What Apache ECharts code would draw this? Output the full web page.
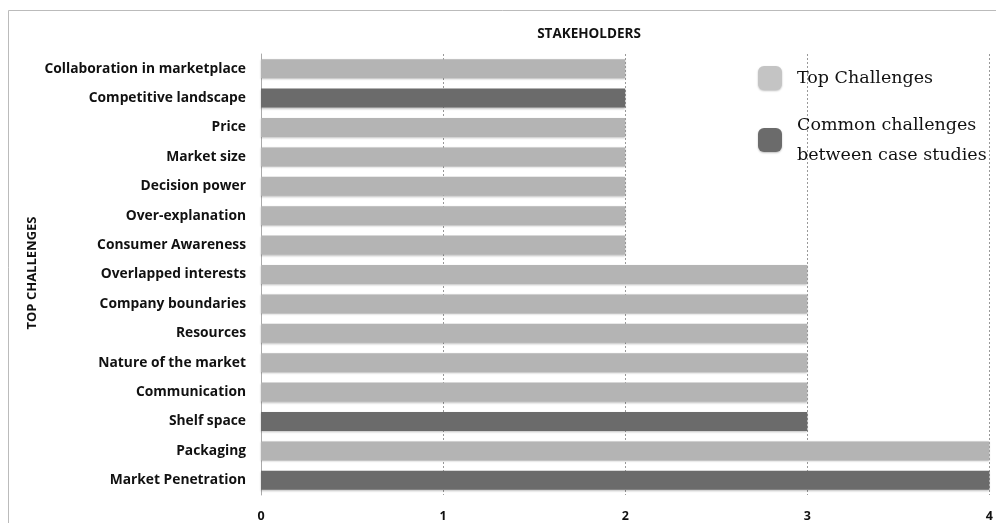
<!DOCTYPE html>
<html><head><meta charset="utf-8">
<script src="https://cdn.jsdelivr.net/npm/echarts@6/dist/echarts.min.js"></script>
<style>html,body{margin:0;padding:0;background:#fff}#c{width:996px;height:523px}</style>
</head><body><div id="c"></div>
<script>
const categories = ["Collaboration in marketplace","Competitive landscape","Price","Market size","Decision power","Over-explanation","Consumer Awareness","Overlapped interests","Company boundaries","Resources","Nature of the market","Communication","Shelf space","Packaging","Market Penetration"];
const topChallenges = [2,'-',2,2,2,2,2,3,3,3,3,3,'-',4,'-'];
const commonChallenges = ['-',2,'-','-','-','-','-','-','-','-','-','-',3,'-',4];
const xTicks = [0,1,2,3,4];
const seriesNames = ["Top Challenges","Common challenges\nbetween case studies"];

const chart = echarts.init(document.getElementById('c'));
const barStyle = (c) => ({color:c, shadowColor:'rgba(0,0,0,0.25)', shadowBlur:2, shadowOffsetY:1});
chart.setOption({
  animation:false,
  grid:{left:261, right:4, top:54, bottom:28, containLabel:false},
  title:{text:'STAKEHOLDERS', left:584, top:22, textAlign:'center',
    textStyle:{fontFamily:'Open Sans', fontWeight:'bold', fontSize:13.5, color:'#111'}},
  legend:{orient:'vertical', left:753, top:58, itemWidth:24, itemHeight:24, itemGap:17,
    icon:'roundRect',
    data:[{name:seriesNames[0], itemStyle:barStyle('#c4c4c4')},{name:seriesNames[1], itemStyle:barStyle('#6b6b6b')}],
    textStyle:{fontFamily:'DejaVu Serif', fontSize:17.5, color:'#111', lineHeight:30, padding:[0,0,0,10]}},
  xAxis:{type:'value', min:0, max:4, interval:1,
    axisLine:{show:false}, axisTick:{show:false},
    axisLabel:{fontFamily:'Open Sans', fontWeight:'bold', fontSize:12.5, color:'#111', margin:15,
      formatter:(v)=> xTicks.includes(v) ? String(v) : ''},
    splitLine:{show:true, lineStyle:{type:[2,2], color:'#999', width:1}}},
  yAxis:{type:'category', data:categories, inverse:true,
    axisLine:{show:true, lineStyle:{color:'#aaa'}}, axisTick:{show:false},
    axisLabel:{fontFamily:'Open Sans', fontWeight:'bold', fontSize:13.8, color:'#111', margin:15}},
  graphic:[
    {type:'rect', shape:{x:8.5,y:10.5,width:1200,height:600}, style:{fill:'none', stroke:'#bbb', lineWidth:1}, silent:true},
    {type:'text', x:32, y:273, rotation:Math.PI/2,
      style:{text:'TOP CHALLENGES', fontFamily:'Open Sans', fontWeight:'bold', fontSize:13, fill:'#111', textAlign:'center', textVerticalAlign:'middle'}}
  ],
  series:[
    {name:seriesNames[0], type:'bar', stack:'s', data:topChallenges, barWidth:19, itemStyle:barStyle('#b4b4b4')},
    {name:seriesNames[1], type:'bar', stack:'s', data:commonChallenges, barWidth:19, itemStyle:barStyle('#6b6b6b')}
  ]
});
</script></body></html>
